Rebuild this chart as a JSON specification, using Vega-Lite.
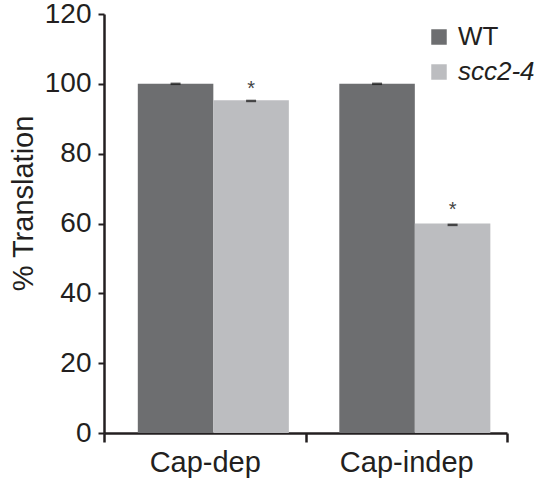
{
  "$schema": "https://vega.github.io/schema/vega-lite/v6.json",
  "autosize": {"type": "none"},
  "padding": {"left": 104, "top": 14, "right": 31, "bottom": 47},
  "width": 403,
  "height": 419,
  "background": "white",
  "config": {
    "view": {"stroke": null},
    "font": "Liberation Sans",
    "axis": {"grid": false, "domainColor": "#231f20", "tickColor": "#231f20", "labelColor": "#231f20", "titleColor": "#231f20", "labelFont": "Liberation Sans", "titleFont": "Liberation Sans"}
  },
  "data": {
    "values": [
      {"condition": "Cap-dep", "genotype": "WT", "value": 100, "err": 100, "star": 104, "sig": ""},
      {"condition": "Cap-dep", "genotype": "scc2-4", "value": 95.3, "err": 95.1, "star": 98.5, "sig": "*"},
      {"condition": "Cap-indep", "genotype": "WT", "value": 100, "err": 100, "star": 104, "sig": ""},
      {"condition": "Cap-indep", "genotype": "scc2-4", "value": 60, "err": 59.6, "star": 64, "sig": "*"}
    ]
  },
  "encoding": {
    "x": {
      "field": "condition", "type": "nominal", "sort": ["Cap-dep", "Cap-indep"],
      "scale": {"paddingInner": 0, "paddingOuter": 0},
      "axis": {"title": null, "labelAngle": 0, "labelFontSize": 29, "labelPadding": 6, "labelDx": -2, "tickBand": "extent", "tickSize": 9, "tickWidth": 2.5, "domainWidth": 2.5, "labelColor": "#231f20"}
    },
    "xOffset": {
      "field": "genotype", "type": "nominal", "sort": ["WT", "scc2-4"],
      "scale": {"paddingInner": 0, "paddingOuter": 0.334, "align": 0.67}
    }
  },
  "layer": [
    {
      "mark": {"type": "bar"},
      "encoding": {
        "y": {
          "field": "value", "type": "quantitative",
          "scale": {"domain": [0, 120], "nice": false},
          "axis": {"title": "% Translation", "titleFontSize": 29, "titleFontWeight": "normal", "titleX": -66, "titleY": 189, "values": [0, 20, 40, 60, 80, 100, 120], "labelFontSize": 28, "labelPadding": 7, "labelDy": 3, "tickSize": 6, "tickWidth": 2, "domainWidth": 2.5}
        },
        "color": {
          "field": "genotype", "type": "nominal", "sort": ["WT", "scc2-4"],
          "scale": {"domain": ["WT", "scc2-4"], "range": ["#6d6e70", "#bcbdc0"]},
          "legend": {
            "title": null, "orient": "none", "legendX": 322, "legendY": 10,
            "symbolType": "square", "symbolSize": 240, "symbolStrokeWidth": 0, "symbolOpacity": 1,
            "labelFontSize": 26, "labelFont": "Liberation Sans", "labelColor": "#231f20", "labelOffset": 6, "rowPadding": 9, "padding": 0,
            "encode": {"labels": {"update": {"fontStyle": {"signal": "datum.label == 'scc2-4' ? 'italic' : 'normal'"}}}}
          }
        }
      }
    },
    {
      "mark": {"type": "tick", "color": "#111111", "thickness": 2.5, "size": 10, "orient": "horizontal"},
      "encoding": {"y": {"field": "err", "type": "quantitative"}}
    },
    {
      "mark": {"type": "text", "fontSize": 20, "color": "#444444", "baseline": "middle"},
      "encoding": {"y": {"field": "star", "type": "quantitative"}, "text": {"field": "sig"}}
    }
  ]
}
